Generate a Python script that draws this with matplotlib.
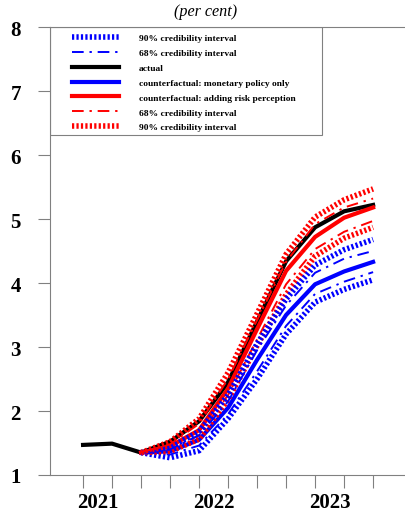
import numpy as np
import matplotlib
matplotlib.use("Agg")
import matplotlib.pyplot as plt
from matplotlib.patches import Rectangle

# quarterly positions; year labels sit between ticks
quarters = np.arange(0, 11)
year_labels = ["2021", "2022", "2023"]
year_pos = [0.5, 4.5, 8.5]

actual_x = np.arange(0, 11)
actual = [1.47, 1.49, 1.35, 1.52, 1.84, 2.45, 3.40, 4.34, 4.87, 5.12, 5.22]

fc_x = np.arange(2, 11)
blue_mid = [1.35, 1.37, 1.55, 2.05, 2.80, 3.50, 3.98, 4.18, 4.33]
blue_68_lo = [1.35, 1.32, 1.46, 1.95, 2.62, 3.33, 3.83, 4.02, 4.17]
blue_68_hi = [1.35, 1.40, 1.62, 2.15, 2.95, 3.65, 4.16, 4.38, 4.50]
blue_90_lo = [1.35, 1.27, 1.38, 1.88, 2.50, 3.20, 3.70, 3.90, 4.05]
blue_90_hi = [1.35, 1.43, 1.68, 2.25, 3.05, 3.75, 4.28, 4.52, 4.68]

red_mid = [1.35, 1.45, 1.70, 2.35, 3.28, 4.19, 4.72, 5.02, 5.18]
red_68_lo = [1.35, 1.40, 1.62, 2.25, 3.12, 3.98, 4.53, 4.80, 4.97]
red_68_hi = [1.35, 1.48, 1.80, 2.50, 3.42, 4.33, 4.92, 5.18, 5.32]
red_90_lo = [1.35, 1.37, 1.56, 2.18, 3.02, 3.82, 4.42, 4.70, 4.87]
red_90_hi = [1.35, 1.52, 1.88, 2.60, 3.52, 4.45, 5.03, 5.30, 5.47]

plt.rcParams['font.family'] = ['Liberation Serif', 'DejaVu Serif']

fig = plt.figure(figsize=(4.05, 5.1), dpi=100)
ax = fig.add_axes([50/405, 34/510, 355/405, 448/510])

dot = (0, (0.4, 0.4))
dashdot = (0, (6, 3, 1.2, 3))

ax.plot(fc_x, blue_90_lo, color='blue', lw=4, linestyle=dot, label='90% credibility interval')
ax.plot(fc_x, blue_68_lo, color='blue', lw=1.4, linestyle=dashdot, label='68% credibility interval')
ax.plot(actual_x, actual, color='black', lw=3, label='actual')
ax.plot(fc_x, blue_mid, color='blue', lw=3, label='counterfactual: monetary policy only')
ax.plot(fc_x, red_mid, color='red', lw=3, label='counterfactual: adding risk perception')
ax.plot(fc_x, red_68_lo, color='red', lw=1.4, linestyle=dashdot, label='68% credibility interval')
ax.plot(fc_x, red_90_lo, color='red', lw=4, linestyle=dot, label='90% credibility interval')
ax.plot(fc_x, blue_90_hi, color='blue', lw=4, linestyle=dot)
ax.plot(fc_x, blue_68_hi, color='blue', lw=1.4, linestyle=dashdot)
ax.plot(fc_x, red_68_hi, color='red', lw=1.4, linestyle=dashdot)
ax.plot(fc_x, red_90_hi, color='red', lw=4, linestyle=dot)

ax.set_xlim(-1.14, 11.1)
ax.set_ylim(1, 8)
ax.set_yticks(range(1, 9))
ax.set_yticklabels([str(v) for v in range(1, 9)], fontsize=15, fontweight='bold')
ax.set_xticks(quarters)
ax.set_xticklabels([])
ax.set_xticks(year_pos, minor=True)
ax.set_xticklabels(year_labels, minor=True, fontsize=15, fontweight='bold')
ax.tick_params(axis='x', which='minor', length=0, pad=12)
ax.tick_params(axis='both', which='major', length=9, color='gray', width=0.8)
ax.tick_params(axis='y', pad=12)

for s in ['left', 'bottom', 'top']:
    ax.spines[s].set_color('gray')
    ax.spines[s].set_linewidth(0.8)
ax.spines['right'].set_visible(False)

# legend without its own frame, box drawn separately
leg = ax.legend(loc='upper left', bbox_to_anchor=(0.062, 0.985),
                prop={'weight': 'bold', 'size': 6.8}, frameon=False,
                borderaxespad=0, borderpad=0, handlelength=5.0,
                handletextpad=2.1, labelspacing=0.66)
ax.add_patch(Rectangle((0, 0.759), 0.766, 0.241, transform=ax.transAxes,
                       fill=False, edgecolor='gray', lw=0.8, zorder=5))

fig.text(206/405, 1 - 12/510, '(per cent)', ha='center', va='center',
         fontsize=11.6, style='italic')

fig.savefig('out.png', dpi=100)
